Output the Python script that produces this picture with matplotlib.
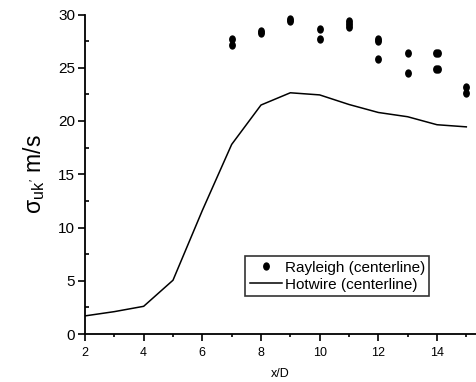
import numpy as np
import matplotlib
matplotlib.use("Agg")
import matplotlib.pyplot as plt
from matplotlib.path import Path
from matplotlib.ticker import MultipleLocator

plt.rcParams['font.family'] = ['Liberation Sans', 'DejaVu Sans']
plt.rcParams['mathtext.fontset'] = 'custom'
plt.rcParams['mathtext.rm'] = 'Liberation Sans'
plt.rcParams['mathtext.it'] = 'Liberation Sans'
plt.rcParams['mathtext.bf'] = 'Liberation Sans:bold'

# hotwire centerline
hw_x = [2, 3, 4, 5, 6, 7, 8, 9, 10, 11, 12, 13, 14, 15]
hw_y = [1.7, 2.1, 2.6, 5.05, 11.6, 17.8, 21.5, 22.65, 22.45, 21.55, 20.8, 20.4, 19.65, 19.45]

# rayleigh centerline (several runs per station)
ry_x = [7, 7, 8, 8, 9, 9, 10, 10, 11, 11, 11, 12, 12, 12,
        13, 13, 13.95, 14.05, 13.95, 14.05, 15, 15]
ry_y = [27.7, 27.1, 28.45, 28.25, 29.6, 29.4, 28.6, 27.7, 29.4, 29.1, 28.8, 27.7, 27.5, 25.8,
        26.4, 24.5, 26.4, 26.4, 24.9, 24.9, 23.2, 22.6]

# slightly tall ellipse marker
circ = Path.unit_circle()
ell = Path(circ.vertices * np.array([0.78, 1.0]), circ.codes)

fig = plt.figure(figsize=(4.76, 3.82), dpi=100)
ax = fig.add_axes([85 / 476, 1 - 334 / 382, 391 / 476, 319.5 / 382])

ax.plot(ry_x, ry_y, linestyle='none', marker=ell, markersize=5, color='black',
        label='Rayleigh (centerline)')
ax.plot(hw_x, hw_y, color='black', linewidth=1.1, label='Hotwire (centerline)')

ax.set_xlim(2, 15.33)
ax.set_ylim(0, 30)

for s in ['top', 'right']:
    ax.spines[s].set_visible(False)
for s in ['left', 'bottom']:
    ax.spines[s].set_linewidth(1.3)

ax.xaxis.set_major_locator(MultipleLocator(2))
ax.xaxis.set_minor_locator(MultipleLocator(1))
ax.yaxis.set_major_locator(MultipleLocator(5))
ax.yaxis.set_minor_locator(MultipleLocator(2.5))
ax.tick_params(axis='x', which='major', direction='out', length=5, width=1.2, labelsize=9, pad=4)
ax.tick_params(axis='x', which='minor', direction='out', length=2.5, width=1.2)
ax.tick_params(axis='y', which='major', direction='out', length=5, width=1.2, labelsize=11, pad=2)
ax.tick_params(axis='y', which='minor', direction='in', length=3, width=1.2)

ax.set_xlabel('x/D', fontsize=9, labelpad=7)
ax.set_ylabel(r"$\sigma_{uk'}$ m/s", fontsize=16.5, labelpad=8)

leg = ax.legend(loc='upper left', bbox_to_anchor=(0.409, 0.244), borderaxespad=0,
                fontsize=11, frameon=True, fancybox=False, edgecolor='black',
                handlelength=2.1, handletextpad=0.2, labelspacing=0.2, borderpad=0.3)
leg.get_frame().set_linewidth(1.2)

fig.savefig('out.png', dpi=100)
